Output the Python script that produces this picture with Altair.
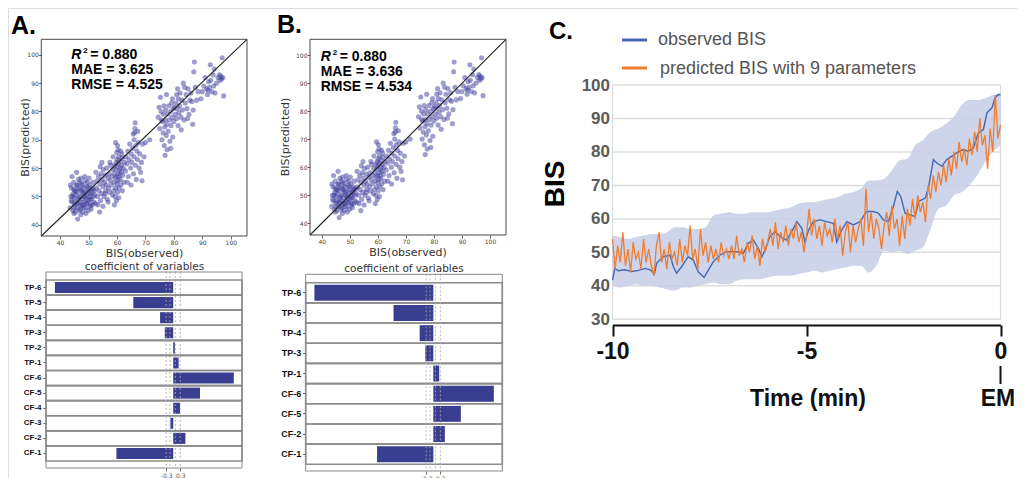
import altair as alt
import pandas as pd

# ---------------- data ----------------
OBS = [43.5, 43.8, 44, 44.2, 44.5, 44.6, 44.8, 45, 45, 45.2, 45.4, 45.5, 45.7, 45.9, 46, 46.1, 46.3, 46.5,
       46.6, 46.8, 47, 47, 47.2, 47.4, 47.5, 47.7, 47.9, 48, 48.1, 48.3, 48.5, 48.6, 48.8, 49, 49, 49.2,
       49.4, 49.5, 49.7, 49.9, 50, 50.1, 50.3, 50.5, 50.6, 50.8, 51, 51.2, 51.4, 51.5, 51.7, 51.9, 52,
       46.2, 44.2, 45.8, 47.3, 48.7, 50.2, 44.8, 46.9, 48.2, 49.6, 45.3, 46.4, 47.8, 49.3, 50.7, 43.9,
       45.1, 46.7, 48.4, 49.8, 51.1, 44.4, 47.6, 48.9, 50.4, 51.6, 45.6, 46.0, 47.1, 48.0, 49.1, 50.9,
       43.6, 44.9, 52.2, 52.5, 47.4,
       52.8, 53, 53.2, 53.5, 53.7, 54, 54.2, 54.4, 54.6, 54.8, 55, 55.2, 55.4, 55.6, 55.8, 56, 56.2, 56.4,
       56.6, 56.8, 57, 57.2, 57.4, 57.6, 57.8, 58, 58.2, 58.4, 53.3, 55.1, 56.9, 54.1, 57.5, 53.9, 55.9,
       58.5, 52.6, 54.7,
       58.8, 59, 59, 59.2, 59.3, 59.4, 59.5, 59.6, 59.7, 59.8, 59.9, 60, 60, 60.1, 60.2, 60.3, 60.4, 60.5,
       60.6, 60.7, 60.8, 60.9, 61, 61.1, 61.2, 61.3, 61.4, 61.5, 61.6, 61.8, 62, 62.2, 62.4, 59.5, 60.2,
       61.7, 59.1, 60.6, 62.6, 58.6, 59.9, 61.9, 60.4,
       63, 63.2, 63.5, 63.8, 64, 64.2, 64.5, 64.8, 65, 65.2, 65.5, 65.8, 66, 66, 66.2, 66.3, 66.5, 66.6,
       66.8, 67, 67.2, 67.5, 67.8, 68, 68.3, 68.6, 69, 69.5, 70, 66.4, 65.7, 63.6, 64.9, 67.3, 68.8, 71.5,
       74.5, 75, 75.5, 75.8, 76, 76.2, 76.3, 76.5, 76.6, 76.8, 77, 77.1, 77.3, 77.5, 77.6, 77.8, 78, 78.2,
       78.4, 78.6, 78.8, 79, 79.2, 79.4, 79.6, 79.8, 80, 74.8, 75.3, 77.4, 76.9, 78.9, 79.5, 75.6,
       80.5, 80.8, 81, 81, 81.2, 81.3, 81.5, 81.6, 81.8, 82, 82.2, 82.5, 82.8, 83, 83.3, 83.6, 84, 84.3,
       84.6, 85, 85.3, 85.6, 86, 86.3, 86.6, 86.8, 87, 87.2, 87.5, 88, 88.5, 84.8, 82.6, 83.8, 80.2,
       89.5, 90, 90.5, 91, 91.5, 92, 92.2, 92.5, 92.8, 93, 93.3, 93.8, 94, 94.5, 95, 95.5, 96, 96.2, 96.5,
       96.8, 97, 97.2, 97.5, 94.2, 91.8]
PRED = [46, 50, 53, 48, 45, 51, 55, 47, 49.5, 52, 44.5, 50.5, 54, 47.5, 46, 51.5, 49, 56,
        53, 45, 48, 50, 52.5, 46.5, 54.5, 49, 51, 44.5, 47, 53, 50, 48, 55.5, 46, 51.5, 49,
        53.5, 47.5, 50.5, 45, 52, 48.5, 54, 50, 46.5, 51, 49, 53, 47, 55, 50, 48, 52,
        42, 57, 58.5, 43.5, 57, 56.5, 52.5, 55, 51.5, 55, 48, 47.5, 47, 47.5, 47, 48.5,
        46, 49.5, 46, 53, 51.5, 50, 52, 49.8, 49, 52.5, 52, 53.8, 45.5, 54, 44, 45.5,
        54, 44, 50.5, 47.5, 56.5,
        53, 55.5, 50, 57, 52, 54.5, 48.5, 58, 51, 56, 53.5, 59.5, 50, 55, 57.5, 52, 54, 60,
        49, 56.5, 53, 58, 51.5, 55.5, 61, 54, 57, 50.5, 47, 46.5, 48, 60.5, 62, 44.5, 51,
        59.5, 58.5, 62,
        52, 55, 58, 61, 50, 56.5, 53, 59.5, 62, 48.5, 57, 54.5, 60.5, 63, 51.5, 58, 55.5, 61.5,
        64, 53, 57, 59, 62.5, 56, 60, 66, 54, 58.5, 61, 63.5, 57.5, 60, 55, 69, 68,
        65, 47, 49.5, 62, 64, 65.5, 52, 66.5,
        59, 64, 61.5, 66, 57, 63, 68.5, 60, 65, 62, 67, 58, 64, 70, 72.5, 74, 61, 68,
        56, 66, 63, 69, 60, 65, 58.5, 62, 68.5, 64, 69, 76, 72, 55, 54, 73, 55.5, 70,
        78, 74, 80, 70, 76.5, 72.5, 79, 82, 68, 74.5, 77, 80.5, 71.5, 75.5, 66.5, 79, 73, 82,
        77, 69.5, 80, 75, 83, 78, 71, 81, 76.5, 81.5, 85, 86, 64.5, 67, 84.5, 77,
        79, 83, 86, 77.5, 81, 88, 75, 84.5, 79.5, 82, 86.5, 78, 84, 80.5, 90, 77, 83, 86,
        81, 88, 79, 84, 86.5, 83.5, 75.5, 80.5, 94, 97.5, 88.5, 84, 87, 77.5, 73.5, 88.5, 81.5,
        84.5, 87, 89, 92, 88, 87.5, 90.5, 88.5, 96.5, 91, 87, 93, 89, 86.5, 90, 92, 93, 91, 92.5,
        91.5, 99, 92, 85.5, 95, 86]

STATS_A = ["0.880", "3.625", "4.525"]
STATS_B = ["0.880", "3.636", "4.534"]
SCATTER_TICKS = [40, 50, 60, 70, 80, 90, 100]

BAR_A_CATS = ["TP-6", "TP-5", "TP-4", "TP-3", "TP-2", "TP-1", "CF-6", "CF-5", "CF-4", "CF-3", "CF-2", "CF-1"]
BAR_A_VALS = [-5.04, -1.70, -0.56, -0.36, 0.07, 0.23, 2.58, 1.14, 0.29, -0.12, 0.52, -2.42]
BAR_B_CATS = ["TP-6", "TP-5", "TP-4", "TP-3", "TP-1", "CF-6", "CF-5", "CF-2", "CF-1"]
BAR_B_VALS = [-5.05, -1.69, -0.58, -0.34, 0.25, 2.57, 1.17, 0.49, -2.39]
COEF_DOM = [-5.42, 2.93]
COEF_GUIDES = [-0.3, -0.14, 0.09, 0.3]
COEF_TICKS = [-0.3, 0.3]

BLUE_T = [-10.0, -9.94, -9.85, -9.68, -9.51, -9.33, -9.16, -9.03, -8.92, -8.86, -8.69, -8.52, -8.43,
          -8.35, -8.22, -8.05, -7.92, -7.79, -7.64, -7.53, -7.40, -7.23, -7.05, -6.88, -6.76, -6.63,
          -6.50, -6.37, -6.24, -6.15, -6.07, -5.94, -5.81, -5.68, -5.51, -5.38, -5.25, -5.12, -5.04,
          -4.95, -4.83, -4.65, -4.48, -4.31, -4.22, -4.09, -3.96, -3.79, -3.62, -3.45, -3.28, -3.15,
          -3.02, -2.89, -2.76, -2.66, -2.57, -2.46, -2.33, -2.20, -2.11, -1.94, -1.86, -1.73, -1.64,
          -1.51, -1.39, -1.26, -1.13, -0.96, -0.83, -0.70, -0.57, -0.44, -0.35, -0.22, -0.14, -0.05, 0.0]
BLUE_V = [41.7, 45.2, 44.5, 44.8, 44.3, 44.6, 45.2, 44.8, 43.6, 46.8, 48.7, 49.2, 45.7,
          43.8, 45.7, 48.7, 47.7, 44.2, 42.5, 44.7, 47.2, 49.2, 50.2, 50.2, 50.2, 49.7,
          52.7, 53.7, 51.2, 48.7, 50.7, 54.7, 56.2, 54.7, 53.7, 56.2, 59.2, 57.2, 53.0,
          56.5, 59.2, 59.7, 59.2, 58.7, 53.1, 56.7, 59.2, 58.2, 59.2, 62.2, 62.2, 61.7,
          59.7, 59.2, 63.7, 68.2, 66.7, 61.7, 61.2, 60.7, 65.2, 66.2, 69.2, 77.7, 76.7,
          75.7, 77.7, 78.7, 79.7, 80.7, 80.2, 81.2, 85.7, 86.7, 91.7, 93.2, 96.2, 97.2, 97.0]

ORANGE_V = [54, 45, 52, 47, 56, 46, 51, 44, 53, 48, 50, 45, 54, 47, 51, 46,
            43, 52, 56, 47, 51, 45, 53, 48, 50, 46, 54, 47, 52, 49, 58,
            48, 51, 45, 57, 49, 53, 47, 52, 48, 51, 47, 53, 49, 51, 48,
            52, 48, 55, 49, 51, 47, 53, 50, 55, 48, 52, 46, 54, 50, 53,
            57, 52, 59, 51, 56, 53, 58, 52, 57, 54, 59, 53, 56, 50, 55,
            63, 55, 60, 54, 58, 52, 59, 55, 57, 53, 60, 54, 58, 49, 56,
            59, 50, 58, 53, 57, 60, 52, 69, 56, 62, 54, 60, 57, 51, 58,
            62, 55, 64, 57, 60, 52, 61, 54, 63, 58, 66, 60, 67, 62, 65,
            59, 70, 66, 73, 68, 74, 70, 76, 71, 78, 73, 80, 75, 83, 77,
            81, 76, 84, 79, 86, 80, 90, 82, 85, 75, 87, 80, 97, 84, 88]
ORANGE_T = [round(-10 + i / 15, 4) for i in range(len(ORANGE_V))]

BAND_T = [-10.0, -9.8, -9.6, -9.4, -9.2, -9.0, -8.8, -8.6, -8.4, -8.2, -8.0, -7.8, -7.6, -7.4, -7.2,
          -7.0, -6.8, -6.6, -6.4, -6.2, -6.0, -5.8, -5.6, -5.4, -5.2, -5.0, -4.8, -4.6, -4.4, -4.2,
          -4.0, -3.8, -3.6, -3.4, -3.2, -3.0, -2.8, -2.6, -2.4, -2.2, -2.0, -1.8, -1.6, -1.4, -1.2,
          -1.0, -0.8, -0.6, -0.4, -0.2, 0.0]
BAND_UP = [55, 54.5, 54, 54.5, 55, 55.5, 55.5, 56, 57.5, 57.5, 57, 57, 57.5, 61, 61.5,
           62, 61.5, 61.5, 62, 62, 62, 62.5, 63, 63.5, 64.5, 65, 65, 65.5, 66, 66.5,
           67.5, 68, 69, 71.5, 71.5, 72, 74.5, 77.5, 78, 82, 83.5, 86, 87, 88.5, 90.5,
           94, 95.5, 95.5, 96, 97, 97.5]
BAND_LO = [40, 39.5, 40, 40.5, 40, 40, 39.5, 39, 38.5, 39.5, 39.5, 40, 40.5, 41, 40.5,
           40.5, 41.5, 42, 42, 42, 42.5, 43, 43, 43, 43.5, 44, 44.5, 44, 44.5, 45,
           45.5, 46, 46, 44, 46, 50.5, 50, 50.5, 49.5, 50.5, 51.5, 57, 63, 64, 67,
           68, 70, 73, 77, 80, 82]

C_Y_TICKS = [30, 40, 50, 60, 70, 80, 90, 100]
C_X_TICKS = [-10, -5, 0]

# ---------------- layout ----------------
W, H = 1009, 470
SANS = "Liberation Sans"
MPL = "DejaVu Sans"


def qs(dom, rng):
    return alt.Scale(domain=dom, range=rng, nice=False, zero=False)


def text_layer(txt, x, y, size, weight="normal", color="#000", font=SANS, align="left",
               baseline="alphabetic", angle=None, style=None):
    kw = dict(fontSize=size, fontWeight=weight, color=color, font=font, align=align, baseline=baseline)
    if angle is not None:
        kw["angle"] = angle
    if style is not None:
        kw["fontStyle"] = style
    return alt.Chart(pd.DataFrame({"t": [txt]})).mark_text(**kw).encode(
        x=alt.value(x), y=alt.value(y), text="t:N")


def scatter_panel(xd, xr, yd, yr, stats, sx, sy, obs_xy, pred_xy):
    xs, ys = qs(xd, xr), qs(yd, yr)
    common = dict(values=SCATTER_TICKS, labelFont=MPL, labelFontSize=6, labelColor="#444",
                  tickSize=3, tickColor="#444", tickWidth=0.8, labelPadding=0, domain=False,
                  grid=False, title=None, labelFlush=False, labelOverlap=False)
    xaxis = alt.Axis(orient="bottom", offset=yr[0] - H, **common)
    yaxis = alt.Axis(orient="left", offset=-xr[0], **common)
    df = pd.DataFrame({"obs": OBS, "pred": PRED})
    pts = alt.Chart(df).mark_circle(size=26, color="#3d3d9e", opacity=0.5).encode(
        x=alt.X("obs:Q", scale=xs, axis=xaxis), y=alt.Y("pred:Q", scale=ys, axis=yaxis))
    diag = alt.Chart(pd.DataFrame({"a": [xd[0], xd[1]], "b": [yd[0], yd[1]]})).mark_line(
        color="#222", strokeWidth=1.1).encode(
        x=alt.X("a:Q", scale=xs, axis=None), y=alt.Y("b:Q", scale=ys, axis=None))
    frame = alt.Chart(pd.DataFrame({"x0": [xd[0]], "x1": [xd[1]], "y0": [yd[0]], "y1": [yd[1]]})).mark_rect(
        fillOpacity=0, stroke="#333", strokeWidth=0.9).encode(
        x=alt.X("x0:Q", scale=xs, axis=None), x2="x1:Q",
        y=alt.Y("y0:Q", scale=ys, axis=None), y2="y1:Q")
    out = [pts, diag, frame]
    out.append(text_layer("R", sx, sy, 14, "bold", style="italic"))
    out.append(text_layer("2", sx + 12, sy - 6, 8, "bold"))
    out.append(text_layer("= " + stats[0], sx + 19, sy, 14, "bold"))
    out.append(text_layer("MAE = " + stats[1], sx, sy + 15, 14, "bold"))
    out.append(text_layer("RMSE = " + stats[2], sx, sy + 30, 14, "bold"))
    out.append(text_layer("BIS(observed)", obs_xy[0], obs_xy[1], 11, color="#333", font=MPL,
                          align="center", baseline="middle"))
    out.append(text_layer("BIS(predicted)", pred_xy[0], pred_xy[1], 11, color="#333", font=MPL,
                          align="center", baseline="middle", angle=270))
    return out


def bar_panel(cats, vals, xr, band_rng, frame_y, pad_in, label_size, title_xy):
    xs = qs(COEF_DOM, xr)
    n = len(cats)
    df = pd.DataFrame({"cat": cats, "val": vals, "zero": [0] * n,
                       "x0": [COEF_DOM[0]] * n, "x1": [COEF_DOM[1]] * n})
    rows = alt.Chart(df).mark_rect(fillOpacity=0, stroke="#8c8c8c", strokeWidth=1.6).encode(
        y=alt.Y("cat:N", sort=cats, scale=alt.Scale(domain=cats, range=band_rng, paddingInner=0, paddingOuter=0),
                axis=None),
        x=alt.X("x0:Q", scale=xs, axis=None), x2="x1:Q")
    yaxis = alt.Axis(orient="left", offset=-xr[0], labelFont=SANS, labelFontSize=label_size,
                     labelFontWeight="bold", labelColor="#111", tickSize=3, tickColor="#555",
                     domain=False, title=None, labelPadding=2)
    xaxis = alt.Axis(orient="bottom", offset=frame_y[1] - H, values=COEF_TICKS, labelFont=MPL,
                     labelExpr="datum.value < 0 ? '-' + format(-datum.value, '.1f') : format(datum.value, '.1f')",
                     labelFontSize=6, labelColor="#555", tickSize=3, tickColor="#666", domain=False,
                     grid=False, title=None, labelPadding=1, labelFlush=False, labelOverlap=False)
    bars = alt.Chart(df).mark_bar(color="#3a3e91").encode(
        y=alt.Y("cat:N", sort=cats,
                scale=alt.Scale(domain=cats, range=band_rng, paddingInner=pad_in, paddingOuter=pad_in / 2),
                axis=yaxis),
        x=alt.X("val:Q", scale=xs, axis=xaxis), x2="zero:Q")
    guides = alt.Chart(pd.DataFrame({"g": COEF_GUIDES})).mark_rule(
        color="#aaa", strokeDash=[2, 2], strokeWidth=0.8).encode(
        x=alt.X("g:Q", scale=xs, axis=None), y=alt.value(frame_y[0]), y2=alt.value(frame_y[1]))
    frame = alt.Chart(pd.DataFrame({"x0": [COEF_DOM[0]], "x1": [COEF_DOM[1]]})).mark_rect(
        fillOpacity=0, stroke="#888", strokeWidth=1).encode(
        x=alt.X("x0:Q", scale=xs, axis=None), x2="x1:Q",
        y=alt.value(frame_y[0]), y2=alt.value(frame_y[1]))
    title = text_layer("coefficient of variables", title_xy[0], title_xy[1], 10.5, color="#333",
                       font=MPL, align="center", baseline="middle")
    return [rows, bars, guides, frame, title]


layers = []
# Panel A
layers += scatter_panel([33.4, 105.7], [33.3, 239.0], [36.0, 105.5], [228.0, 31.3],
                        STATS_A, 63.3, 51, (136.5, 245.5), (18, 129.5))
layers += bar_panel(BAR_A_CATS, BAR_A_VALS, [38, 234], [272, 453], [264, 460], 0.27, 8, (136.5, 258.5))
# Panel B
layers += scatter_panel([35.8, 105.7], [302.0, 498.0], [35.8, 105.6], [227.0, 31.3],
                        STATS_B, 312.7, 53, (400, 245), (278, 129))
layers += bar_panel(BAR_B_CATS, BAR_B_VALS, [297.7, 494.3], [274.7, 456.3], [266.3, 463], 0.21, 9, (396, 261))

# Panel C
cxs = qs([-10, 0], [604.5, 992.5])
cys = qs([30, 100], [311.3, 77])
cyaxis = alt.Axis(orient="left", offset=-604.5, values=C_Y_TICKS, labelFont=SANS, labelFontSize=17,
                  labelFontWeight="bold", labelColor="#5a5a5a", ticks=False, domain=False, grid=False,
                  labelPadding=3, title=None, labelFlush=False, labelOverlap=False)
cxaxis = alt.Axis(orient="bottom", offset=317 - H, values=C_X_TICKS,
                  labelExpr="datum.value < 0 ? '-' + (-datum.value) : '' + datum.value",
                  labelFont=SANS, labelFontSize=23, labelFontWeight="bold", labelColor="#111",
                  domainColor="#111", domainWidth=2, tickColor="#111", tickWidth=2, tickSize=11,
                  labelPadding=4, title=None, grid=False, labelFlush=False, labelOverlap=False)
grid = alt.Chart(pd.DataFrame({"g": C_Y_TICKS, "x0": [-10] * 8, "x1": [0] * 8})).mark_rule(
    color="#dedede", strokeWidth=1.5).encode(
    y=alt.Y("g:Q", scale=cys, axis=cyaxis), x=alt.X("x0:Q", scale=cxs, axis=None), x2="x1:Q")
edges = alt.Chart(pd.DataFrame({"e": [-10, 0], "lo": [30, 30], "hi": [100, 100]})).mark_rule(
    color="#d9d9d9", strokeWidth=1.2).encode(
    x=alt.X("e:Q", scale=cxs, axis=None), y=alt.Y("lo:Q", scale=cys, axis=None), y2="hi:Q")
band = alt.Chart(pd.DataFrame({"t": BAND_T, "up": BAND_UP, "lo": BAND_LO})).mark_area(
    color="#c5cde6", opacity=0.85, interpolate="monotone").encode(
    x=alt.X("t:Q", scale=cxs, axis=cxaxis), y=alt.Y("up:Q", scale=cys, axis=None), y2="lo:Q")
blue = alt.Chart(pd.DataFrame({"t": BLUE_T, "v": BLUE_V})).mark_line(
    color="#4468b4", strokeWidth=1.4).encode(
    x=alt.X("t:Q", scale=cxs, axis=None), y=alt.Y("v:Q", scale=cys, axis=None))
orange = alt.Chart(pd.DataFrame({"t": ORANGE_T, "v": ORANGE_V})).mark_line(
    color="#ee7d31", strokeWidth=1.3).encode(
    x=alt.X("t:Q", scale=cxs, axis=None), y=alt.Y("v:Q", scale=cys, axis=None))
em_rule = alt.Chart(pd.DataFrame({"e": [0]})).mark_rule(color="#111", strokeWidth=2).encode(
    x=alt.X("e:Q", scale=cxs, axis=None), y=alt.value(358), y2=alt.value(376))
leg_blue = alt.Chart(pd.DataFrame({"k": [1]})).mark_rule(color="#4468b4", strokeWidth=3).encode(
    x=alt.value(614), x2=alt.value(639), y=alt.value(32))
leg_orange = alt.Chart(pd.DataFrame({"k": [1]})).mark_rule(color="#ee7d31", strokeWidth=3).encode(
    x=alt.value(614), x2=alt.value(639), y=alt.value(60))

layers += [grid, edges, band, blue, orange, em_rule, leg_blue, leg_orange]
layers.append(text_layer("observed BIS", 650, 37, 18, color="#555"))
layers.append(text_layer("predicted BIS with 9 parameters", 652, 66, 18, color="#555"))
layers.append(text_layer("BIS", 548, 176, 28, "bold", align="center", baseline="middle", angle=270))
layers.append(text_layer("Time (min)", 800, 398, 23, "bold", color="#111", align="center"))
layers.append(text_layer("EM", 990, 398, 23, "bold", color="#111", align="center"))

# panel letters
layers.append(text_layer("A.", 3, 26, 25, "bold"))
layers.append(text_layer("B.", 269, 25, 25, "bold"))
layers.append(text_layer("C.", 541, 31, 24, "bold"))

chart = alt.layer(*layers).resolve_scale(x="independent", y="independent").properties(
    width=W, height=H, autosize=alt.AutoSizeParams(type="none"), padding=0
).configure_view(stroke=None).configure(background="white")

chart.save("out.html", embed_options={"renderer": "svg", "actions": False})
